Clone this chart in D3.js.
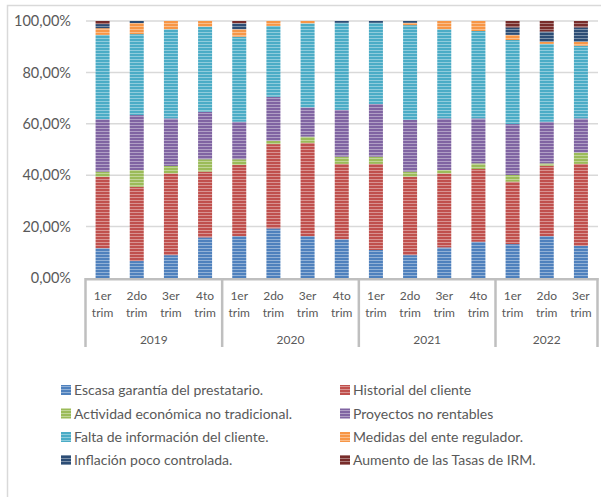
<!DOCTYPE html>
<html><head><meta charset="utf-8">
<script src="https://cdn.jsdelivr.net/npm/d3@7"></script>
<style>body{margin:0;background:#fff}svg{display:block}</style>
</head><body>
<svg id="c" width="601" height="497"></svg>
<script>
const quarters = ["1er trim","2do trim","3er trim","4to trim","1er trim","2do trim","3er trim","4to trim","1er trim","2do trim","3er trim","4to trim","1er trim","2do trim","3er trim"];
const years = ["2019","2019","2019","2019","2020","2020","2020","2020","2021","2021","2021","2021","2022","2022","2022"];
const seriesNames = ["Escasa garantía del prestatario.","Historial del cliente","Actividad económica no tradicional.","Proyectos no rentables","Falta de información del cliente.","Medidas del ente regulador.","Inflación poco controlada.","Aumento de las Tasas de IRM."];
const escasa     = [11.6, 6.6, 8.9,15.8,16.3,19.3,16.3,15.1,10.9, 8.9,11.9,14.1,13.2,16.3,12.5];
const historial  = [27.8,28.9,31.8,25.6,27.7,32.8,36.3,29.3,33.5,30.5,28.8,28.3,24.3,27.4,31.9];
const actividad  = [ 2.0, 6.5, 2.9, 4.8, 2.2, 1.3, 2.4, 2.8, 2.8, 2.0, 1.3, 2.2, 2.6, 0.9, 4.4];
const proyectos  = [20.4,21.4,18.5,18.5,14.6,17.1,11.4,18.2,20.5,20.1,20.1,17.5,19.8,16.2,13.3];
const falta      = [32.8,31.5,34.7,33.1,33.1,27.6,32.7,33.9,31.6,36.9,34.7,34.0,32.7,30.3,28.3];
const medidas    = [ 2.6, 4.3, 3.2, 2.2, 2.9, 1.9, 0.9, 0.0, 0.0, 0.9, 3.2, 3.9, 2.0, 0.8, 1.5];
const inflacion  = [ 1.6, 0.8, 0.0, 0.0, 2.3, 0.0, 0.0, 0.7, 0.7, 0.7, 0.0, 0.0, 2.9, 4.0, 5.6];
const aumento    = [ 1.2, 0.0, 0.0, 0.0, 0.9, 0.0, 0.0, 0.0, 0.0, 0.0, 0.0, 0.0, 2.5, 4.1, 2.5];
const yTicks = [0,20,40,60,80,100];
const colors = ["#4F81BD","#C0504D","#9BBB59","#8064A2","#4BACC6","#F79646","#2C4D75","#772C2A"];

const allSeries = [escasa,historial,actividad,proyectos,falta,medidas,inflacion,aumento];
const keys = allSeries.map((_,i)=>"s"+i);
const rows = quarters.map((q,i)=>{const r={idx:i}; allSeries.forEach((s,k)=>r["s"+k]=s[i]); return r;});
const stacked = d3.stack().keys(keys)(rows);

const svg = d3.select("#c");
const font = "Lato, 'Open Sans', sans-serif";
const txt = "#595959";

// outer border
svg.append("rect").attr("x",7.5).attr("y",5.5).attr("width",640).attr("height",600)
  .attr("fill","none").attr("stroke","#d9d9d9").attr("stroke-width",1.5);

// patterns
const defs = svg.append("defs");
colors.forEach((c,i)=>{
  const p = defs.append("pattern").attr("id","p"+i).attr("patternUnits","userSpaceOnUse")
    .attr("width",6).attr("height",3);
  p.append("rect").attr("width",6).attr("height",3).attr("fill",c);
  p.append("rect").attr("y",2).attr("width",6).attr("height",1).attr("fill","#fff").attr("opacity",0.38);
});

const x = d3.scaleBand().domain(d3.range(quarters.length)).range([85.5,598]).paddingInner(0.59).paddingOuter(0.295);
const y = d3.scaleLinear().domain([0,100]).range([278,21]);
const step = x.step();

// gridlines
svg.append("g").selectAll("line").data(yTicks.filter(t=>t>0)).join("line")
  .attr("x1",86).attr("x2",598).attr("y1",d=>y(d)).attr("y2",d=>y(d))
  .attr("stroke","#d9d9d9").attr("stroke-width",1.5);

// y labels
svg.append("g").selectAll("text").data(yTicks).join("text")
  .attr("x",71).attr("y",d=>y(d)).attr("dy","0.36em").attr("text-anchor","end")
  .attr("font-family",font).attr("font-size",14.5).attr("fill",txt)
  .text(d=>d3.format(".2f")(d).replace(".",",")+"%");

// bars
svg.append("g").selectAll("g").data(stacked).join("g")
  .attr("fill",(d,i)=>"url(#p"+i+")")
  .selectAll("rect").data(d=>d).join("rect")
  .attr("x",d=>x(d.data.idx)).attr("width",x.bandwidth())
  .attr("y",d=>y(d[1])).attr("height",d=>Math.max(0,y(d[0])-y(d[1])));

// x axis line
svg.append("line").attr("x1",85).attr("x2",598.5).attr("y1",279.3).attr("y2",279.3)
  .attr("stroke","#bfbfbf").attr("stroke-width",2.5);

// group separators
const groups = [];
years.forEach((yr,i)=>{ if(!groups.length || groups[groups.length-1].year!==yr) groups.push({year:yr,start:i,end:i}); else groups[groups.length-1].end=i; });
const center = i => x(i)+x.bandwidth()/2;
const seps = [center(0)-step/2].concat(groups.map(g=>center(g.end)+step/2));
svg.append("g").selectAll("line").data(seps).join("line")
  .attr("x1",d=>Math.min(d,597.5)).attr("x2",d=>Math.min(d,597.5)).attr("y1",278).attr("y2",347)
  .attr("stroke","#bfbfbf").attr("stroke-width",2.5);

// quarter labels
const ql = svg.append("g").attr("font-family",font).attr("font-size",12).attr("fill",txt).attr("text-anchor","middle");
quarters.forEach((q,i)=>{
  const parts=q.split(" ");
  ql.append("text").attr("x",center(i)).attr("y",300).text(parts[0]);
  ql.append("text").attr("x",center(i)).attr("y",316.5).text(parts[1]);
});
// year labels
svg.append("g").selectAll("text").data(groups).join("text")
  .attr("x",g=>(center(g.start)+center(g.end))/2).attr("y",343.5)
  .attr("text-anchor","middle").attr("font-family",font).attr("font-size",12).attr("fill",txt)
  .text(g=>g.year);

// legend
const legPos = [[61,390],[340,390],[61,413.5],[340,413.5],[61,437],[340,437],[61,460],[340,460]];
const lg = svg.append("g");
seriesNames.forEach((n,i)=>{
  const [lx,ly]=legPos[i];
  lg.append("rect").attr("x",lx).attr("y",ly-5).attr("width",10).attr("height",10).attr("fill","url(#p"+i+")");
  lg.append("text").attr("x",lx+13).attr("y",ly).attr("dy","0.36em")
    .attr("font-family",font).attr("font-size",14).attr("fill",txt).text(n);
});
</script>
</body></html>
